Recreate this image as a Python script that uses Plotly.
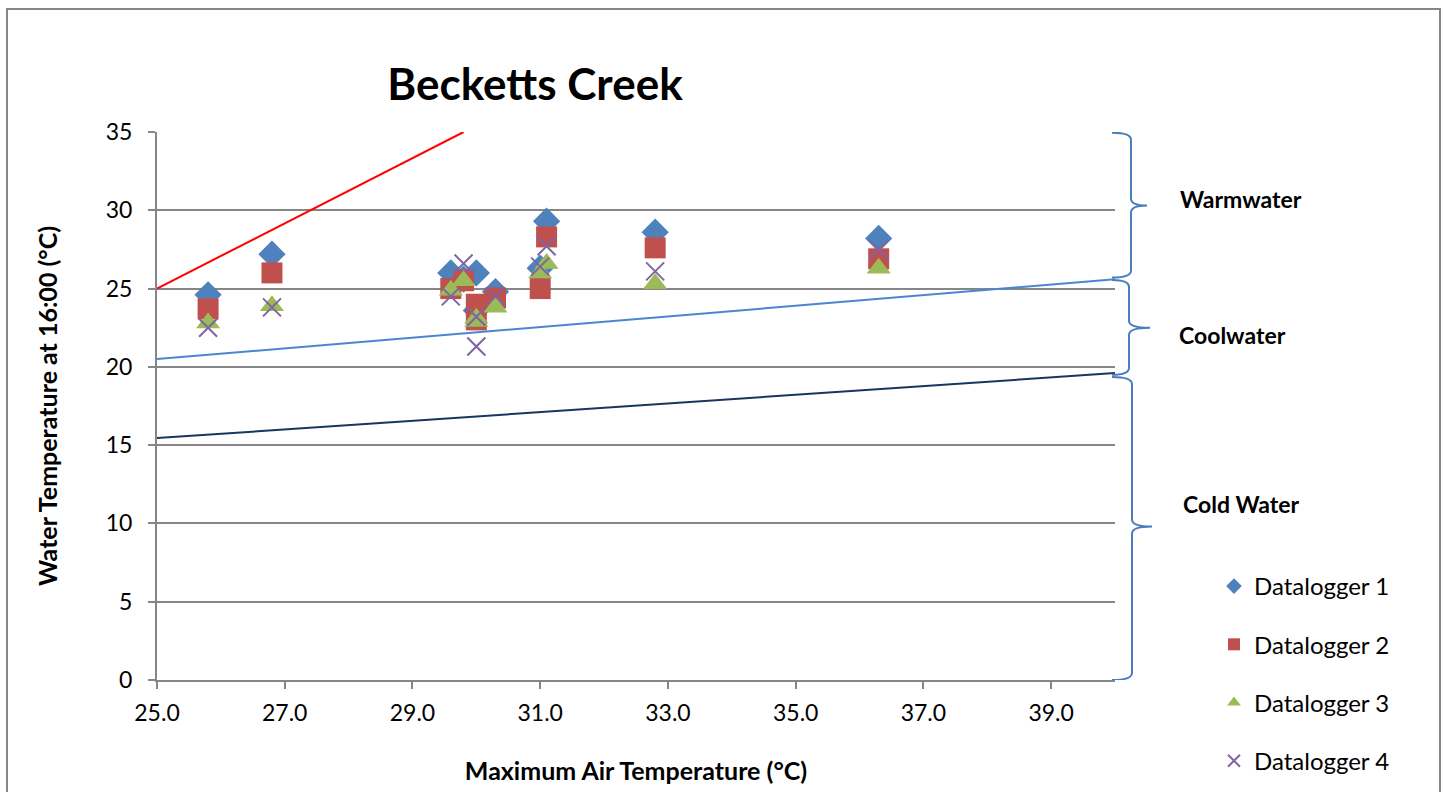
import plotly.graph_objects as go

# ---- data ----
air_temp = [25.8, 26.8, 29.6, 29.8, 30.0, 30.0, 30.3, 31.0, 31.1, 32.8, 36.3]
datalogger1 = [24.6, 27.2, 26.0, 25.6, 26.0, 23.6, 24.8, 26.3, 29.3, 28.6, 28.2]
datalogger2 = [23.7, 26.0, 25.0, 25.5, 24.0, 23.0, 24.4, 25.0, 28.3, 27.6, 26.9]
datalogger3 = [22.8, 23.9, 24.9, 25.5, 22.9, 23.1, 23.8, 26.0, 26.6, 25.3, 26.3]
datalogger4 = [22.5, 23.8, 24.5, 26.6, 23.2, 21.3, 24.5, 26.4, 27.7, 26.1, 27.5]

red_line_x = [25.0, 29.8]
red_line_y = [25.0, 35.0]
cool_line_x = [25.0, 40.0]
cool_line_y = [20.5, 25.6]
cold_line_x = [25.0, 40.0]
cold_line_y = [15.45, 19.6]

# brace extents (top, bottom, tip) in water temperature units
brace_labels = ["Warmwater", "Coolwater", "Cold Water"]
brace_top = [34.95, 25.55, 19.35]
brace_bottom = [25.7, 19.5, 0.0]
brace_tip = [30.3, 22.5, 9.8]

x_ticks = [25, 27, 29, 31, 33, 35, 37, 39]
y_ticks = [0, 5, 10, 15, 20, 25, 30, 35]

FONT = "Lato"
GRID = "#868686"

fig = go.Figure()

fig.add_trace(go.Scatter(x=red_line_x, y=red_line_y, mode="lines",
                         line=dict(color="#FF0000", width=2), showlegend=False, hoverinfo="skip"))
fig.add_trace(go.Scatter(x=cool_line_x, y=cool_line_y, mode="lines",
                         line=dict(color="#4A86D0", width=2), showlegend=False, hoverinfo="skip"))
fig.add_trace(go.Scatter(x=cold_line_x, y=cold_line_y, mode="lines",
                         line=dict(color="#17375E", width=2), showlegend=False, hoverinfo="skip"))

fig.add_trace(go.Scatter(x=air_temp, y=datalogger1, mode="markers", name="Datalogger 1",
                         legendgroup="1",
                         marker=dict(symbol="diamond", size=21, color="#4F81BD")))
fig.add_trace(go.Scatter(x=air_temp, y=datalogger2, mode="markers", name="Datalogger 2",
                         legendgroup="2",
                         marker=dict(symbol="square", size=21, color="#C0504D")))
fig.add_trace(go.Scatter(x=air_temp, y=datalogger3, mode="markers", name="Datalogger 3",
                         legendgroup="3",
                         marker=dict(symbol="triangle-up", size=21, color="#9BBB59")))
fig.add_trace(go.Scatter(x=air_temp, y=datalogger4, mode="markers", name="Datalogger 4",
                         legendgroup="4",
                         marker=dict(symbol="x-thin-open", size=18, color="#8064A2",
                                     line=dict(color="#8064A2", width=2))))

W, H = 1448, 792
L, R, T, B = 157, 333, 132, 112
PW = W - L - R
PH = H - T - B


def px_x(p):
    return (p - L) / PW


def px_y(p):
    return (H - B - p) / PH


shapes = []
# outer chart border
shapes.append(dict(type="rect", xref="paper", yref="paper",
                   x0=px_x(7), x1=px_x(1440), y0=px_y(800), y1=px_y(9),
                   line=dict(color=GRID, width=2), fillcolor="rgba(0,0,0,0)", layer="below"))

# braces
xs = px_x(1112)
xv = [px_x(1131), px_x(1129), px_x(1132)]
xt = [px_x(1147), px_x(1150), px_x(1152)]
d = 0.45
for i in range(3):
    yt, yb, ym = brace_top[i], brace_bottom[i], brace_tip[i]
    path = (f"M {xs},{yt} Q {xv[i]},{yt} {xv[i]},{yt - d} "
            f"L {xv[i]},{ym + d} Q {xv[i]},{ym} {xt[i]},{ym} "
            f"Q {xv[i]},{ym} {xv[i]},{ym - d} "
            f"L {xv[i]},{yb + d} Q {xv[i]},{yb} {xs},{yb}")
    shapes.append(dict(type="path", xref="paper", yref="y", path=path,
                       line=dict(color="#4A7EBB", width=2)))

annotations = []
label_x = [1241, 1232, 1241]
label_y = [199, 335, 504]
for i, lab in enumerate(brace_labels):
    annotations.append(dict(text=f"<b>{lab}</b>", xref="paper", yref="paper",
                            x=px_x(label_x[i]), y=px_y(label_y[i]),
                            showarrow=False, xanchor="center", yanchor="middle",
                            font=dict(family=FONT, size=23, color="black")))

fig.update_layout(
    width=W, height=H,
    margin=dict(l=L, r=R, t=T, b=B, autoexpand=False),
    paper_bgcolor="white", plot_bgcolor="white",
    title=dict(text="<b>Becketts Creek</b>", x=535 / W, xanchor="center",
               y=1 - 85 / H, yanchor="middle",
               font=dict(family=FONT, size=44, color="black")),
    font=dict(family=FONT, size=23, color="black"),
    showlegend=True,
    legend=dict(x=px_x(1214), y=px_y(564), xanchor="left", yanchor="top",
                font=dict(family=FONT, size=24, color="black"),
                tracegroupgap=24, bgcolor="rgba(0,0,0,0)", itemsizing="constant"),
    shapes=shapes,
    annotations=annotations,
)

fig.update_xaxes(range=[25, 40], tickvals=x_ticks, tickformat=".1f",
                 automargin=False,
                 showgrid=False, zeroline=False,
                 showline=True, linecolor=GRID, linewidth=2,
                 ticks="outside", ticklen=7, tickcolor=GRID, tickwidth=2,
                 ticklabelstandoff=4,
                 tickfont=dict(family=FONT, size=23),
                 title=dict(text="<b>Maximum Air Temperature (°C)</b>",
                            font=dict(family=FONT, size=25), standoff=38))
fig.update_yaxes(range=[0, 35], tickvals=y_ticks,
                 automargin=False,
                 showgrid=True, gridcolor=GRID, gridwidth=2, zeroline=False,
                 showline=True, linecolor=GRID, linewidth=2,
                 ticks="outside", ticklen=7, tickcolor=GRID, tickwidth=2,
                 ticklabelstandoff=11,
                 tickfont=dict(family=FONT, size=23),
                 title=dict(text="<b>Water Temperature at 16:00 (°C)</b>",
                            font=dict(family=FONT, size=25), standoff=41))

post = "document.documentElement.style.margin='0px';document.body.style.margin='0px';"
fig.write_html("out.html", post_script=post, config={"displayModeBar": False})
